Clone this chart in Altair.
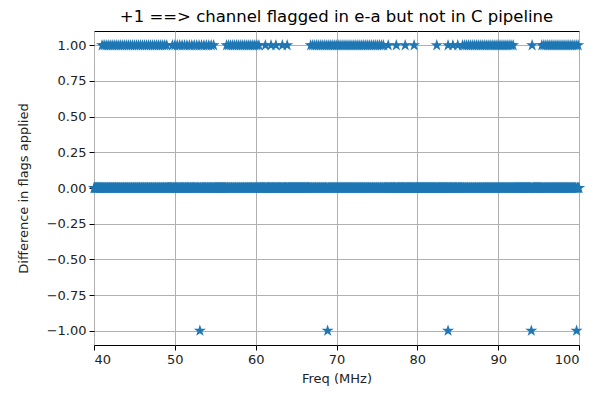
import numpy as np
import pandas as pd
import altair as alt

# Channel grid of the spectrum (MHz)
chan_start, chan_stop, chan_step = 40.0, 100.0, 0.05

# Dense runs of channels with difference +1 (start, stop, spacing) in MHz
plus_runs = [(41.0, 49.2, 0.25), (49.7, 55.0, 0.3), (56.4, 60.6, 0.25),
             (66.8, 75.8, 0.25), (85.6, 92.0, 0.25), (95.4, 99.9, 0.25)]
# Isolated channels with difference +1
plus_single = [61.2, 61.9, 62.5, 63.3, 63.9, 76.4, 77.4, 78.5, 79.6,
               82.4, 83.8, 84.4, 85.0, 94.2]
# Channels with difference -1
minus_single = [53.1, 68.9, 83.8, 94.1, 99.7]

title_text = "+1 ==> channel flagged in e-a but not in C pipeline"
x_title = "Freq (MHz)"
y_title = "Difference in flags applied"
x_ticks = [40, 50, 60, 70, 80, 90, 100]
y_ticks = [-1.0, -0.75, -0.5, -0.25, 0.0, 0.25, 0.5, 0.75, 1.0]

plus = list(plus_single)
for a, b, s in plus_runs:
    plus += list(np.round(np.arange(a, b + 1e-9, s), 2))
channels = np.round(np.arange(chan_start, chan_stop + 1e-9, chan_step), 2)
used = set(np.round(plus, 2)) | set(np.round(minus_single, 2))
zero = [c for c in channels if c not in used]

df = pd.DataFrame({
    "freq": list(zero) + plus + minus_single,
    "diff": [0.0] * len(zero) + [1.0] * len(plus) + [-1.0] * len(minus_single),
})

star = "M0,-1L0.2245,-0.309L0.951,-0.309L0.363,0.118L0.588,0.809L0,0.382L-0.588,0.809L-0.363,0.118L-0.951,-0.309L-0.2245,-0.309Z"

chart = alt.Chart(df).mark_point(
    shape=star, filled=True, color="#1f77b4", size=160, opacity=1
).encode(
    x=alt.X("freq:Q", scale=alt.Scale(domain=[40, 100], nice=False, zero=False),
            axis=alt.Axis(values=x_ticks, title=x_title, format="d")),
    y=alt.Y("diff:Q", scale=alt.Scale(domain=[-1.1, 1.1], nice=False),
            axis=alt.Axis(values=y_ticks, title=y_title, format=".2f")),
).properties(
    width=485, height=314,
    title=alt.TitleParams(title_text, fontSize=16.5, font="DejaVu Sans",
                          fontWeight="normal", color="black", offset=6),
    padding={"left": 94, "top": 31, "right": 13, "bottom": 49},
    autosize=alt.AutoSizeParams(type="none"),
).configure_view(
    stroke="black", strokeWidth=1
).configure_axis(
    labelFont="DejaVu Sans", titleFont="DejaVu Sans",
    labelFontSize=13, titleFontSize=13, titleFontWeight="normal",
    labelColor="#222222", titleColor="#222222",
    domain=False, tickColor="black", tickSize=5, tickWidth=1,
    grid=True, gridColor="#b0b0b0", gridWidth=1, gridOpacity=1,
    labelPadding=3,
).configure_axisX(titlePadding=6).configure_axisY(titlePadding=16)

chart.save("out.html", embed_options={"renderer": "svg", "actions": False})
